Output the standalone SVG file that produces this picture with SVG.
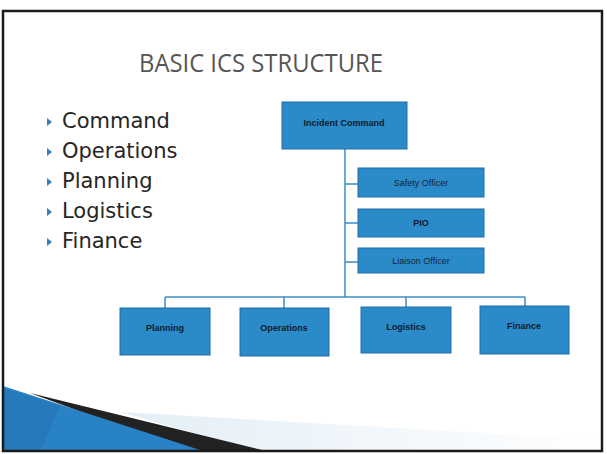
<svg xmlns="http://www.w3.org/2000/svg" width="607" height="454" viewBox="0 0 607 454">
<defs>
<style>
.box{fill:#2b8bc9;stroke:#1f6fa6;stroke-width:1}
.lbl{font-family:"Liberation Sans",Arial,sans-serif;font-size:9px;font-weight:bold;fill:#111a2a;text-anchor:middle}
.lbl2{font-family:"Liberation Sans",Arial,sans-serif;font-size:9px;fill:#15233a;text-anchor:middle}
.con{stroke:#3d8cc2;stroke-width:1.5;fill:none}
.bul{font-family:"DejaVu Sans",sans-serif;font-size:21px;fill:#262626}
.tri{fill:#3b7fb8}
</style>
<linearGradient id="lg" x1="0" y1="0" x2="1" y2="0">
<stop offset="0" stop-color="#e3eef6"/>
<stop offset="1" stop-color="#ffffff"/>
</linearGradient>
</defs>
<rect x="0" y="0" width="607" height="454" fill="#ffffff"/>
<!-- bottom-left decoration -->
<polygon points="120,412 607,440 607,452 260,452" fill="url(#lg)"/>
<polygon points="30,393 270,452 190,452" fill="#222"/>
<polygon points="3,386 200,450 200,452 3,452" fill="#2a82c6"/>
<polygon points="3,388 60,406 40,452 3,452" fill="#2474b4" opacity="0.6"/>
<!-- frame -->
<rect x="3" y="11" width="599" height="440" fill="none" stroke="#1a1a1a" stroke-width="2.5"/>
<!-- title -->
<text x="261" y="72" font-family="'Open Sans','DejaVu Sans',sans-serif" font-size="26" fill="#555" text-anchor="middle" textLength="244" lengthAdjust="spacingAndGlyphs">BASIC ICS STRUCTURE</text>
<!-- bullets -->
<g id="bullets">
<polygon class="tri" points="47,118 52,122 47,126"/>
<text class="bul" x="62" y="128">Command</text>
<polygon class="tri" points="47,148 52,152 47,156"/>
<text class="bul" x="62" y="158">Operations</text>
<polygon class="tri" points="47,178 52,182 47,186"/>
<text class="bul" x="62" y="188">Planning</text>
<polygon class="tri" points="47,208 52,212 47,216"/>
<text class="bul" x="62" y="218">Logistics</text>
<polygon class="tri" points="47,238 52,242 47,246"/>
<text class="bul" x="62" y="248">Finance</text>
</g>
<!-- connectors -->
<g id="connectors">
<path class="con" d="M345,149 V297"/>
<path class="con" d="M345,184 H358 M345,223 H358 M345,262 H358"/>
<path class="con" d="M165,297 H525"/>
<path class="con" d="M165,297 V308 M284,297 V308 M406,297 V307 M525,297 V306"/>
</g>
<g id="incident-command">
<rect class="box" x="282" y="102" width="125" height="47"/>
<text class="lbl" x="344" y="126">Incident Command</text>
</g>
<g id="safety-officer">
<rect class="box" x="358" y="168" width="126" height="29"/>
<text class="lbl2" x="421" y="186">Safety Officer</text>
</g>
<g id="pio">
<rect class="box" x="358" y="209" width="126" height="28"/>
<text class="lbl" x="421" y="226">PIO</text>
</g>
<g id="liaison-officer">
<rect class="box" x="358" y="248" width="126" height="25"/>
<text class="lbl2" x="421" y="264">Liaison Officer</text>
</g>
<g id="planning">
<rect class="box" x="120" y="308" width="90" height="47"/>
<text class="lbl" x="165" y="331">Planning</text>
</g>
<g id="operations">
<rect class="box" x="240" y="308" width="89" height="48"/>
<text class="lbl" x="284" y="331">Operations</text>
</g>
<g id="logistics">
<rect class="box" x="361" y="307" width="90" height="46"/>
<text class="lbl" x="406" y="330">Logistics</text>
</g>
<g id="finance">
<rect class="box" x="480" y="306" width="89" height="48"/>
<text class="lbl" x="524" y="329">Finance</text>
</g>
</svg>
